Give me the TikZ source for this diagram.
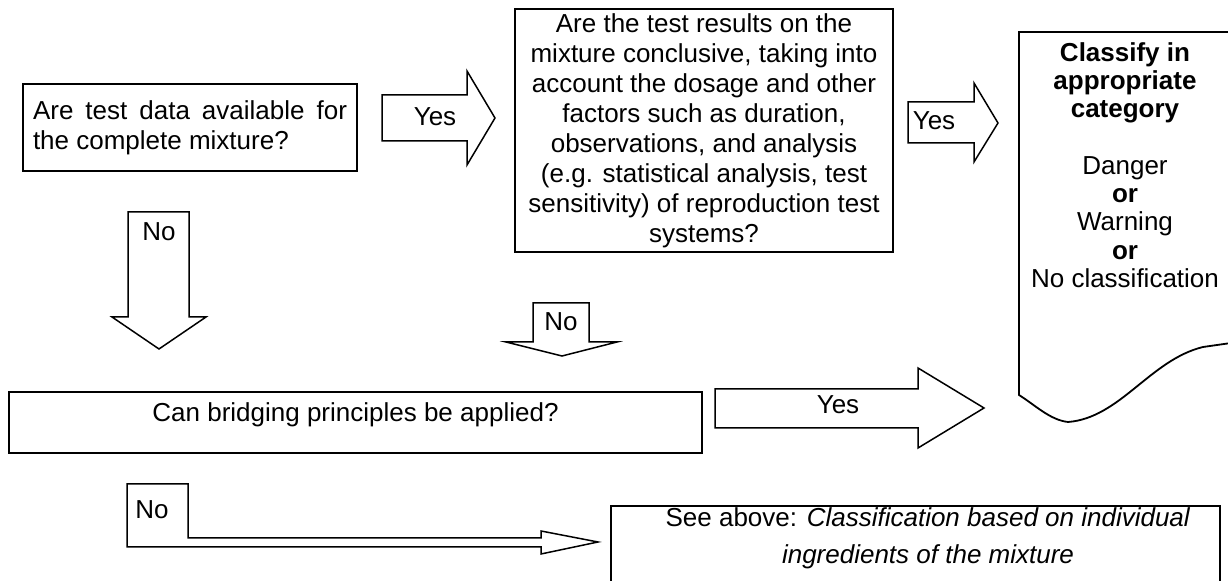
\documentclass[tikz,border=0pt]{standalone}
\usepackage{fontspec}
\setmainfont{Liberation Sans}
\tikzset{
  qbox/.style={draw,line width=0.9pt,align=center,inner sep=0pt},
  blockarr/.style={draw,line width=0.75pt,line join=miter},
  lbl/.style={inner sep=0pt}
}
\begin{document}
\begin{tikzpicture}[x=0.5pt,y=-0.5pt,font=\fontsize{13}{15}\selectfont]
  \useasboundingbox (0,0) rectangle (1228,581);
  \clip (0,0) rectangle (1228,581);
  % question boxes
  \node[qbox,minimum width=167pt,minimum height=43.5pt,align=left] (qdata) at (190,127.5)
    {\makebox[157pt][s]{Are test data available for}\\the complete mixture?};
  \node[qbox,minimum width=189pt,minimum height=121.5pt] (qconcl) at (704,130.5)
    {Are the test results on the\\mixture conclusive, taking into\\account the dosage and other\\factors such as duration,\\observations, and analysis\\(e.g. statistical analysis, test\\sensitivity) of reproduction test\\systems?};
  \node[qbox,minimum width=346.5pt,minimum height=30.5pt,text height=10pt,text depth=11pt] (qbridge) at (355.5,422.5)
    {Can bridging principles be applied?};
  % result box with wavy bottom
  \node[lbl,align=center,font=\fontsize{13}{14.15}\selectfont] (classify) at (1125,165)
    {\textbf{Classify in}\\\textbf{appropriate}\\\textbf{category}\\~\\Danger\\\textbf{or}\\Warning\\\textbf{or}\\No classification};
  \draw[line width=0.9pt] (1231,343) -- (1203,347) .. controls (1150,360) and (1120,418) .. (1068,422)
    .. controls (1050,420) and (1035,405) .. (1019,395) -- (1019,32) -- (1231,32) -- cycle;
  % see above box
  \node[lbl,align=center,font=\fontsize{13}{18.5}\selectfont] (seeabove) at (928,538.5)
    {See above: \textit{Classification based on individual}\\\textit{ingredients of the mixture}};
  \draw[line width=0.9pt] (611,620) -- (611,506) -- (1220,506) -- (1220,620);
  % yes arrows
  \draw[blockarr] (382,95) -- (467,95) -- (467,71) -- (495,118) -- (467,165) -- (467,141) -- (382,141) -- cycle;
  \node[lbl] (yes1) at (435,117) {Yes};
  \draw[blockarr] (908,102) -- (974,102) -- (974,83) -- (998,123) -- (974,162) -- (974,143) -- (908,143) -- cycle;
  \node[lbl] (yes2) at (934,121) {Yes};
  \draw[blockarr] (715,389) -- (918,389) -- (918,368) -- (984,408) -- (918,448) -- (918,428) -- (715,428) -- cycle;
  \node[lbl] (yes3) at (838,405) {Yes};
  % no arrows
  \draw[blockarr] (128,212) -- (189,212) -- (189,317) -- (206,317) -- (159,349) -- (112,317) -- (128,317) -- cycle;
  \node[lbl] (no1) at (159,232) {No};
  \draw[blockarr] (533,303) -- (589,303) -- (589,342) -- (617,342) -- (562,356) -- (506,342) -- (533,342) -- cycle;
  \node[lbl] (no2) at (561,322) {No};
  \draw[blockarr] (127,484) -- (188,484) -- (188,538) -- (541,538) -- (541,531) -- (598,542) -- (541,554) -- (541,547) -- (127,547) -- cycle;
  \node[lbl] (no3) at (152,510) {No};
\end{tikzpicture}
\end{document}
